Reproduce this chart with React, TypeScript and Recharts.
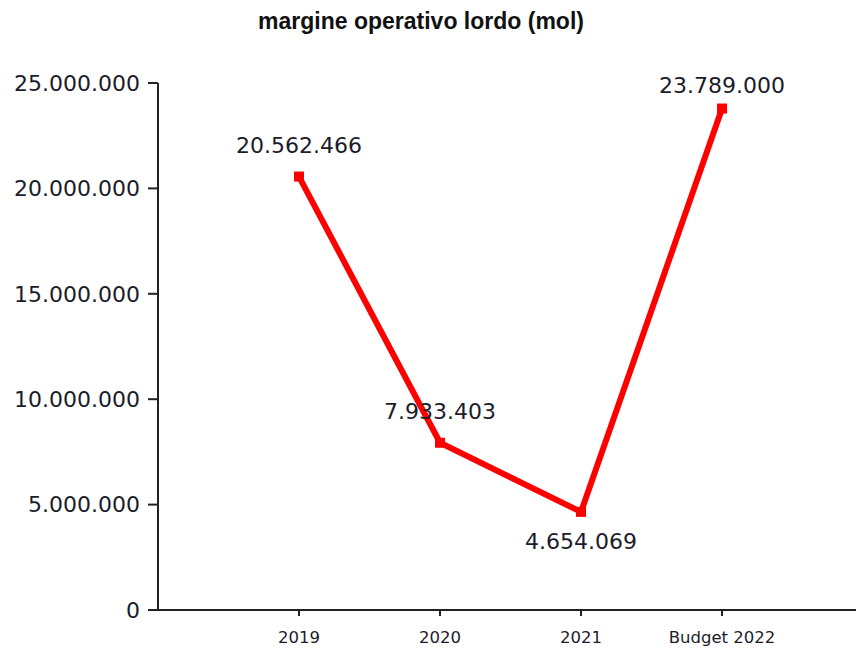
import { LineChart, Line, XAxis, YAxis, LabelList } from "recharts";

const categories = ["2019", "2020", "2021", "Budget 2022"];
const molValues = [20562466, 7933403, 4654069, 23789000];
const yTicks = [0, 5000000, 10000000, 15000000, 20000000, 25000000];

const data = categories.map((c, i) => ({ pos: i + 1, name: c, mol: molValues[i] }));

const fmt = (v: number) => v.toLocaleString("de-DE");
const textColor = "#1c1c2a";
const font = "'DejaVu Sans', Verdana, sans-serif";

function Marker(props: any) {
  const { cx, cy } = props;
  if (cx == null || cy == null) return null;
  return <rect x={cx - 5} y={cy - 5} width={10} height={10} fill="#ff0000" />;
}

function ValueLabel(props: any) {
  const { x, y, value, index } = props;
  // the lowest point puts its label underneath the line
  const below = index === 2;
  const ty = below ? y + 29 : Math.max(y - 31, 85);
  return (
    <text x={x} y={ty} dy="0.35em" textAnchor="middle" fontSize={22} fontFamily={font} fill={textColor}>
      {fmt(value)}
    </text>
  );
}

export default function App() {
  return (
    <div style={{ position: "absolute", left: 0, top: 0, width: 856, height: 650, background: "#fff" }}>
      <div
        style={{
          position: "absolute",
          top: 8,
          left: 0,
          width: 842,
          textAlign: "center",
          fontFamily: "'Liberation Sans', Arial, sans-serif",
          fontWeight: "bold",
          fontSize: 23,
          color: "#111",
        }}
      >
        margine operativo lordo (mol)
      </div>
      <LineChart width={856} height={650} data={data} margin={{ top: 83, right: 0, bottom: 0, left: 0 }}>
        <XAxis
          dataKey="pos"
          type="number"
          domain={[0, 4.95]}
          ticks={[1, 2, 3, 4]}
          tickFormatter={(v) => categories[v - 1]}
          height={40}
          tickSize={6}
          tickMargin={15}
          stroke="#222"
          strokeWidth={2}
          tick={{ fill: textColor, fontSize: 16.5, fontFamily: font }}
        />
        <YAxis
          dataKey="mol"
          domain={[0, 25000000]}
          ticks={yTicks}
          width={158}
          tickSize={10}
          tickMargin={8}
          stroke="#222"
          strokeWidth={2}
          tickFormatter={fmt}
          tick={{ fill: textColor, fontSize: 22, fontFamily: font }}
        />
        <Line
          dataKey="mol"
          stroke="#ff0000"
          strokeWidth={6}
          dot={<Marker />}
          activeDot={false}
          isAnimationActive={false}
        >
          <LabelList dataKey="mol" content={<ValueLabel />} />
        </Line>
      </LineChart>
    </div>
  );
}
